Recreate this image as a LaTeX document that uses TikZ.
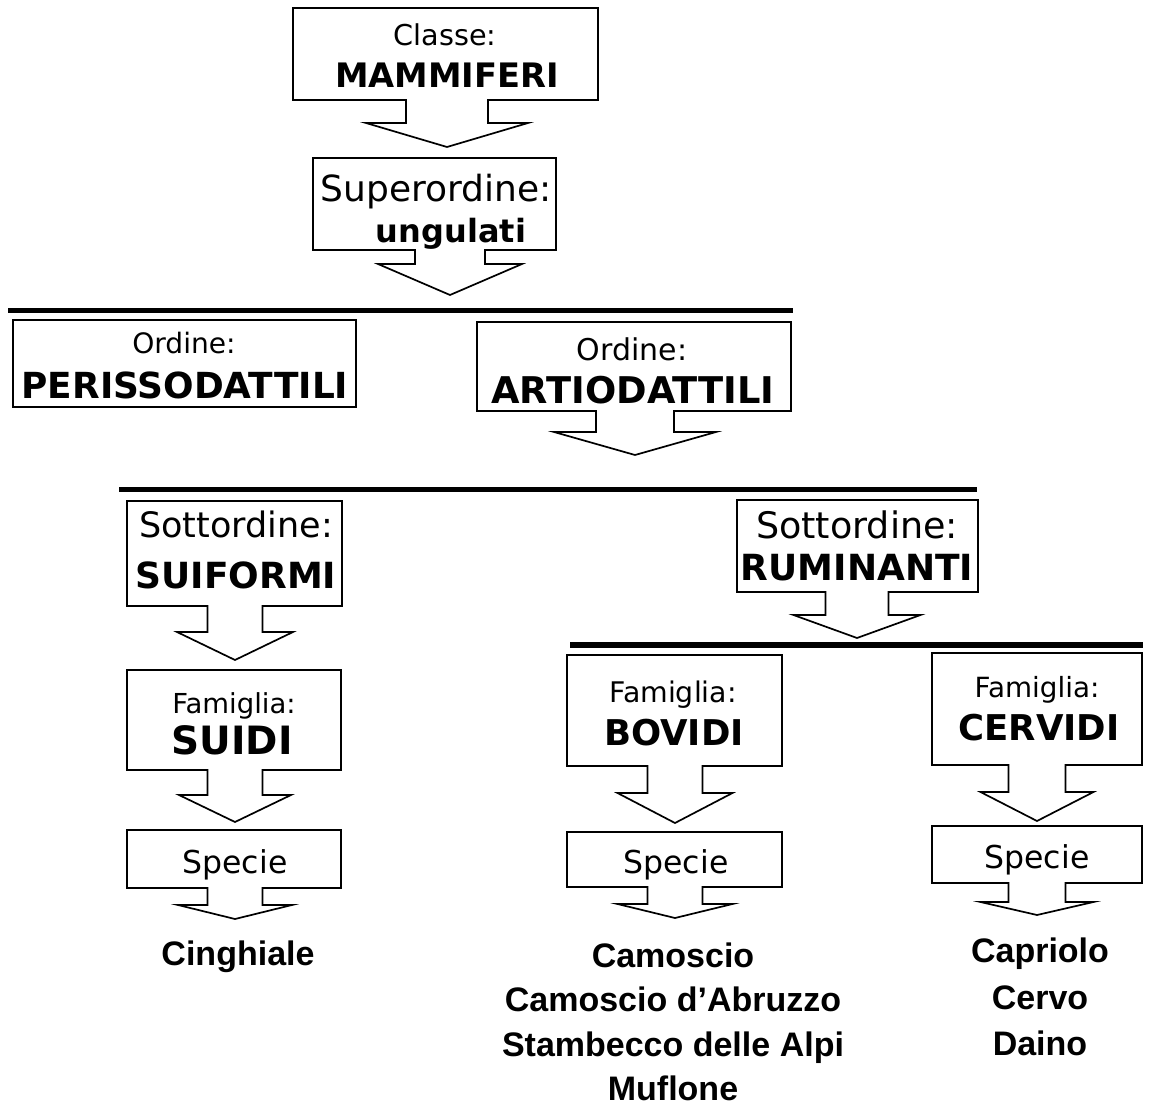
\documentclass[tikz,border=0pt]{standalone}
\usepackage{fontspec}
\setmainfont{DejaVu Sans}
\newfontfamily\spfont{Liberation Sans}
\newcommand\fs[1]{\fontsize{#1}{#1}\selectfont}
% callout box with a block arrow below:
% #1 L, #2 T, #3 R, #4 B, #5 arrow centre x, #6 shaft half width, #7 shaft end y, #8 wing half width, #9 tip y
\newcommand\callout[9]{%
  \draw[boxline] (#1,#2) -- (#3,#2) -- (#3,#4) -- ({#5+#6},#4) -- ({#5+#6},#7)
    -- ({#5+#8},#7) -- (#5,#9) -- ({#5-#8},#7) -- ({#5-#6},#7) -- ({#5-#6},#4)
    -- (#1,#4) -- cycle;}
\begin{document}
\begin{tikzpicture}[x=1pt,y=-1pt,
  boxline/.style={draw=black,line width=1.7pt,line join=miter,fill=white},
  bar/.style={line width=5.5pt,black},
  lab/.style={anchor=base,inner sep=0pt,text=black},
  splist/.style={anchor=base,inner sep=0pt,align=center,font=\spfont\bfseries\fs{34}}]
\useasboundingbox[fill=white] (0,0) rectangle (1149,1107);

% bars
\coordinate (b1l) at (8,310.5);   \coordinate (b1r) at (793,310.5);
\coordinate (b2l) at (119,489.5); \coordinate (b2r) at (977,489.5);
\coordinate (b3l) at (570,645);   \coordinate (b3r) at (1143,645);
\draw[bar] (b1l) -- (b1r);
\draw[bar] (b2l) -- (b2r);
\draw[bar] (b3l) -- (b3r);

% Classe
\callout{293}{8}{598}{100}{447}{41}{123}{81}{147}
\node[lab,font=\fs{28.7}] (classe) at (445,46) {Classe:};
\node[lab,font=\bfseries\fs{33.7}] (mammiferi) at (447,88) {MAMMIFERI};

% Superordine
\callout{313}{158}{556}{250}{450}{35}{264}{72}{295}
\node[lab,font=\fs{36}] (superordine) at (436,202) {Superordine:};
\node[lab,font=\bfseries\fs{32}] (ungulati) at (451,243) {ungulati};

% Perissodattili
\draw[boxline] (13,320) rectangle (356,407);
\node[lab,font=\fs{28.1}] (ordine1) at (184,354) {Ordine:};
\node[lab,font=\bfseries\fs{35.9}] (perisso) at (185,398) {PERISSODATTILI};

% Artiodattili
\callout{477}{322}{791}{411}{635}{39}{432}{81}{455}
\node[lab,font=\fs{30}] (ordine2) at (632,360) {Ordine:};
\node[lab,font=\bfseries\fs{36.8}] (artio) at (633,403) {ARTIODATTILI};

% Suiformi
\callout{127}{501}{342}{606}{235}{27.5}{632}{58}{660}
\node[lab,font=\fs{35}] (sottordine1) at (236,537) {Sottordine:};
\node[lab,font=\bfseries\fs{36}] (suiformi) at (236,588) {SUIFORMI};

% Ruminanti
\callout{737}{500}{978}{592}{857}{31.5}{615}{63.5}{638}
\node[lab,font=\fs{36.5}] (sottordine2) at (857,538) {Sottordine:};
\node[lab,font=\bfseries\fs{36}] (ruminanti) at (857,580) {RUMINANTI};

% Suidi
\callout{127}{670}{341}{770}{235}{27.5}{795}{56}{822}
\node[lab,font=\fs{27.5}] (famiglia1) at (234,713) {Famiglia:};
\node[lab,font=\bfseries\fs{39}] (suidi) at (232,754) {SUIDI};

% Bovidi
\callout{567}{655}{782}{766}{675}{27.5}{793}{57.5}{823}
\node[lab,font=\fs{28.4}] (famiglia2) at (673,702) {Famiglia:};
\node[lab,font=\bfseries\fs{35.5}] (bovidi) at (674,745) {BOVIDI};

% Cervidi
\callout{932}{653}{1142}{765}{1037}{28.5}{792}{56.5}{821}
\node[lab,font=\fs{27.8}] (famiglia3) at (1037,697) {Famiglia:};
\node[lab,font=\bfseries\fs{35.5}] (cervidi) at (1039,740) {CERVIDI};

% Specie boxes
\callout{127}{830}{341}{888}{235}{27.5}{905}{57}{919}
\node[lab,font=\fs{31.5}] (specie1) at (235,873) {Specie};
\callout{567}{832}{782}{887}{675}{27.5}{904}{57.5}{918}
\node[lab,font=\fs{31.5}] (specie2) at (676,873) {Specie};
\callout{932}{826}{1142}{883}{1037}{28.5}{902}{56.5}{915}
\node[lab,font=\fs{31.5}] (specie3) at (1037,868) {Specie};

% species lists
\node[splist] (cinghiale) at (238,965) {Cinghiale};
\node[splist] (camoscio) at (673,967) {Camoscio};
\node[splist] (abruzzo) at (673,1011) {Camoscio d’Abruzzo};
\node[splist] (stambecco) at (673,1056) {Stambecco delle Alpi};
\node[splist] (muflone) at (673,1100) {Muflone};
\node[splist] (capriolo) at (1040,962) {Capriolo};
\node[splist] (cervo) at (1040,1009) {Cervo};
\node[splist] (daino) at (1040,1055) {Daino};
\end{tikzpicture}
\end{document}
